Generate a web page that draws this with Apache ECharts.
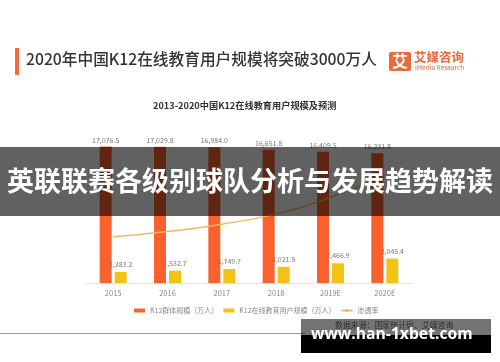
<!DOCTYPE html>
<html>
<head>
<meta charset="utf-8">
<script src="https://cdn.jsdelivr.net/npm/echarts@6/dist/echarts.min.js"></script>
<style>
html,body{margin:0;padding:0;background:#fff;}
#chart{width:500px;height:362px;}
</style>
</head>
<body>
<div id="chart"></div>
<script>
const categories = ['2015', '2016', '2017', '2018', '2019E', '2020E'];
const k12Population = [17076.5, 17029.8, 16984.0, 16651.8, 16409.5, 16231.8];
const k12OnlineUsers = [1383.2, 1532.7, 1749.7, 2021.5, 2466.9, 3045.4];
const penetrationRate = [8.1, 9.0, 10.3, 12.1, 15.0, 18.8];
const seriesNames = ['K12群体规模（万人）', 'K12在线教育用户规模（万人）', '渗透率'];

const FONT = '"Noto Sans CJK SC", "Noto Sans", sans-serif';
function fmt(v) {
  const s = v.toFixed(1);
  const parts = s.split('.');
  parts[0] = parts[0].replace(/\B(?=(\d{3})+(?!\d))/g, ',');
  return parts.join('.');
}

const chart = echarts.init(document.getElementById('chart'), null, {renderer: 'canvas'});
chart.setOption({
  animation: false,
  backgroundColor: '#ffffff',
  textStyle: {fontFamily: FONT},
  grid: {left: 86, right: 88, top: 123, bottom: 79},
  legend: {
    left: 129, top: 302,
    itemWidth: 11, itemHeight: 4, itemGap: 5,
    textStyle: {fontSize: 7, color: '#888', fontFamily: FONT},
    data: [
      {name: seriesNames[0], icon: 'rect'},
      {name: seriesNames[1], icon: 'rect'},
      {name: seriesNames[2]}
    ]
  },
  xAxis: {
    type: 'category',
    data: categories,
    axisLine: {lineStyle: {color: '#e3e3e3', width: 1}},
    axisTick: {show: false},
    axisLabel: {color: '#888', fontSize: 7.5, margin: 6, fontFamily: FONT}
  },
  yAxis: [
    {type: 'value', min: 0, max: 20000, show: false, splitLine: {show: false}},
    {type: 'value', min: 0, max: 28, show: false, splitLine: {show: false}}
  ],
  series: [
    {
      name: seriesNames[0], type: 'bar', data: k12Population,
      barWidth: 12, barGap: '25%',
      itemStyle: {color: '#f9622f'},
      label: {show: true, position: 'top', distance: 3, fontSize: 7, color: '#777',
        formatter: p => fmt(p.value)}
    },
    {
      name: seriesNames[1], type: 'bar', data: k12OnlineUsers,
      barWidth: 12,
      itemStyle: {color: '#f2c314'},
      label: {show: true, position: 'top', distance: 4, fontSize: 7, color: '#777',
        formatter: p => fmt(p.value)}
    },
    {
      name: seriesNames[2], type: 'line', yAxisIndex: 1, data: penetrationRate,
      smooth: true, symbol: 'none',
      lineStyle: {color: '#f3b95f', width: 1.5},
      itemStyle: {color: '#f3b95f'},
      label: {show: true, position: 'right', distance: 6, fontSize: 7, color: '#777',
        formatter: p => p.value.toFixed(1) + '%'},
      z: 5
    }
  ],
  graphic: [
    {type: 'rect', left: 15, top: 48, shape: {width: 4, height: 27}, style: {fill: '#f26a3d'}},
    {type: 'text', left: 26, top: 51, style: {text: '2020年中国K12在线教育用户规模将突破3000万人',
      font: '500 15.7px ' + FONT, fill: '#333'}},
    {type: 'rect', left: 389, top: 52, shape: {width: 22, height: 19, r: 2}, style: {fill: '#ea6a3c'}},
    {type: 'text', left: 392, top: 53, style: {text: '艾', font: 'bold 16px ' + FONT, fill: '#fff'}},
    {type: 'text', left: 414, top: 51, style: {text: '艾媒咨询', font: 'bold 12.5px ' + FONT, fill: '#e8693c'}},
    {type: 'text', left: 415, top: 64, style: {text: 'iMedia Research', font: '6.5px ' + FONT, fill: '#e8693c'}},
    {type: 'text', left: 153, top: 101, style: {text: '2013-2020中国K12在线教育用户规模及预测',
      font: 'bold 9.2px ' + FONT, fill: '#333'}},
    {type: 'line', shape: {x1: 0, y1: 333.5, x2: 305, y2: 333.5}, style: {stroke: '#999', lineWidth: 1}},
    {type: 'text', left: 335, top: 321, style: {text: '数据来源：国家统计局、艾媒咨询', font: '7.9px ' + FONT, fill: '#666'}, z: 50},
    {type: 'rect', left: 0, top: 147, shape: {width: 500, height: 69}, style: {fill: 'rgba(0,0,0,0.62)'}, z: 100},
    {type: 'text', left: 'center', top: 167, style: {text: '英联联赛各级别球队分析与发展趋势解读',
      font: 'bold 27px ' + FONT, fill: '#fff'}, z: 101},
    {type: 'rect', left: 301, top: 319, shape: {width: 190, height: 16}, style: {fill: 'rgba(0,0,0,0.55)'}, z: 100},
    {type: 'rect', left: 301, top: 335, shape: {width: 190, height: 18}, style: {fill: '#000'}, z: 100},
    {type: 'text', left: 311, top: 327, style: {text: 'www.han-1xbet.com', font: 'bold 15.7px "Open Sans", sans-serif', fill: '#fff'}, z: 101}
  ]
});
</script>
</body>
</html>
